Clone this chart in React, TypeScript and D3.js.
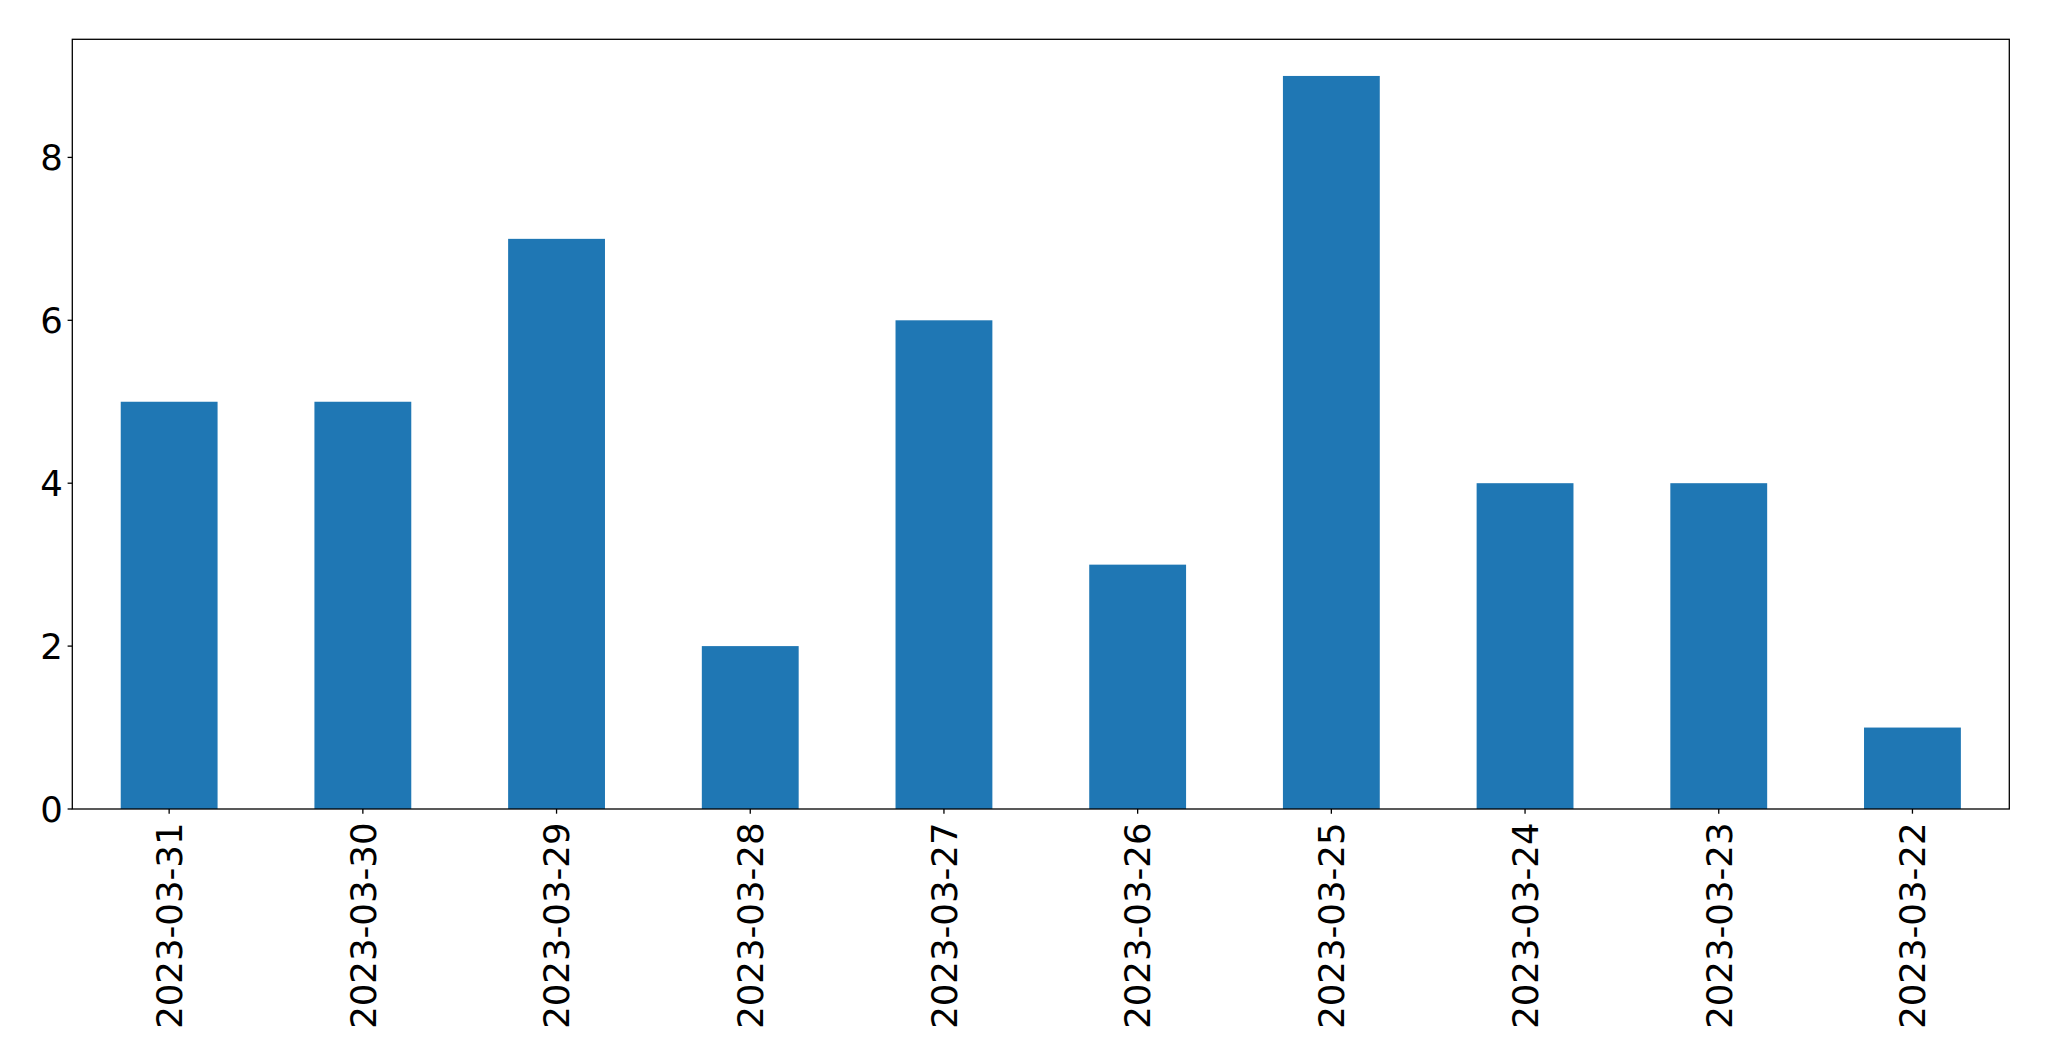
import React from "react";
import * as d3 from "d3";

const categories = ["2023-03-31","2023-03-30","2023-03-29","2023-03-28","2023-03-27","2023-03-26","2023-03-25","2023-03-24","2023-03-23","2023-03-22"];
const values = [5,5,7,2,6,3,9,4,4,1];
const yTicks = [0,2,4,6,8];

const W = 2049, H = 1061;
const L = 72.3, R = 2009.3, T = 39.3, B = 809;
const FONT = "DejaVu Sans";
const FS = 35.5;

export default function App() {
  const x = d3.scaleBand<string>().domain(categories).range([L, R]).paddingInner(0.5).paddingOuter(0.25);
  const y = d3.scaleLinear().domain([0, 9 * 1.05]).range([B, T]);
  return (
    <svg width={W} height={H} style={{ position: "absolute", left: 0, top: 0, background: "#fff" }}>
      <rect x={0} y={0} width={W} height={H} fill="#fff" />
      {categories.map((c, i) => (
        <rect key={c} x={x(c)} y={y(values[i])} width={x.bandwidth()} height={B - y(values[i])} fill="#1f77b4" />
      ))}
      <rect x={L} y={T} width={R - L} height={B - T} fill="none" stroke="#000" strokeWidth={1.3} />
      {yTicks.map(t => (
        <g key={t}>
          <line x1={L - 4.7} x2={L} y1={y(t)} y2={y(t)} stroke="#000" strokeWidth={1.3} />
          <text x={L - 9.5} y={y(t)} dy="0.36em" textAnchor="end" fontFamily={FONT} fontSize={FS} fill="#000">{t}</text>
        </g>
      ))}
      {categories.map(c => {
        const cx = (x(c) as number) + x.bandwidth() / 2;
        return (
          <g key={c}>
            <line x1={cx} x2={cx} y1={B} y2={B + 4.7} stroke="#000" strokeWidth={1.3} />
            <text transform={`translate(${cx},${B + 13.5}) rotate(-90)`} dy="0.36em" textAnchor="end" fontFamily={FONT} fontSize={FS} fill="#000">{c}</text>
          </g>
        );
      })}
    </svg>
  );
}
